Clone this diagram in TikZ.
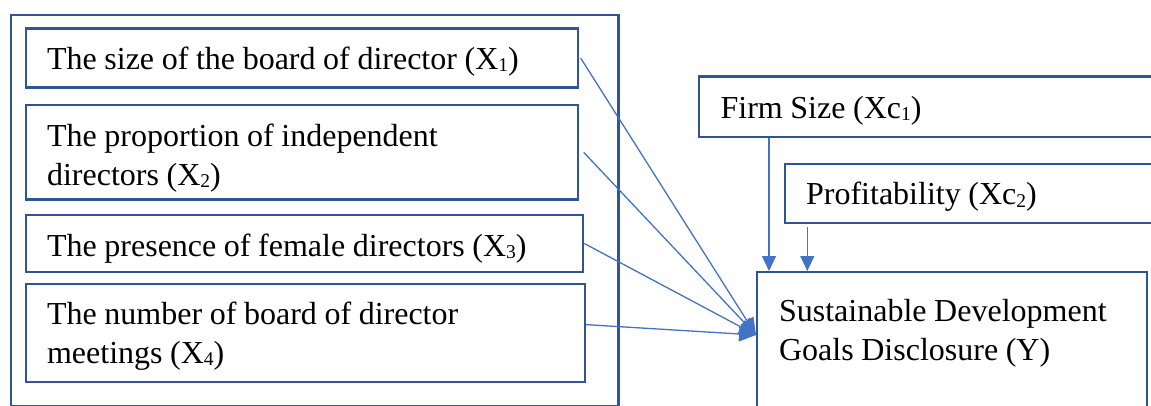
\documentclass[tikz,border=0pt]{standalone}
\usepackage{fontspec}
\setmainfont{Liberation Serif}
\usetikzlibrary{arrows.meta}

\definecolor{boxblue}{HTML}{2F5597}
\definecolor{arrblue}{HTML}{4472C4}

% tight, rigid word spacing inside the boxes
\newcommand{\tightspaces}{\spaceskip=7.6pt\relax\xspaceskip=7.6pt\relax}
% small lowered index, as in X_1
\newcommand{\subidx}[1]{\raisebox{-2.5pt}{\fontsize{19.5}{19.5}\selectfont #1}}

\tikzset{
  frame/.style={draw=boxblue, line width=2.2pt, rectangle, inner sep=0pt,
    anchor=north west},
  varbox/.style={draw=boxblue, line width=2.2pt, rectangle, anchor=north west,
    inner ysep=0pt, inner xsep=21.5pt, align=left,
    font=\fontsize{32}{39}\selectfont,
    execute at begin node=\tightspaces},
  arr/.style={draw=arrblue, line width=1.3pt,
    -{Triangle[length=15pt,width=14pt]}},
  bigarr/.style={arr, -{Triangle[length=17pt,width=15pt]}},
}

\begin{document}
\begin{tikzpicture}[x=1pt, y=-1pt]
  \useasboundingbox (0,0) rectangle (1151,406);

  % group of board characteristics
  \node[frame, minimum width=607.3pt, minimum height=390.5pt] (grp) at (10,14) {};

  % independent variables
  \node[varbox, text width=509.5pt, text height=40.5pt, text depth=18.5pt]
    (b1) at (24.5,27.5) {The size of the board of director (X\subidx{1})};
  \node[varbox, text width=509.5pt, text height=41pt, text depth=53.5pt]
    (b2) at (24.5,104) {The proportion of independent\\directors (X\subidx{2})};
  \node[varbox, text width=514.5pt, text height=41pt, text depth=15.7pt]
    (b3) at (24.5,214) {The presence of female directors (X\subidx{3})};
  \node[varbox, text width=516pt, text height=40.5pt, text depth=57.5pt]
    (b4) at (24.5,282.5) {The number of board of director\\meetings (X\subidx{4})};

  % control variables
  \node[varbox, text width=429pt, text height=41.5pt, text depth=19pt]
    (firm) at (698,75.5) {Firm Size (Xc\subidx{1})};
  \node[varbox, text width=343.5pt, text height=40.8pt, text depth=18.8pt]
    (prof) at (783.5,162.7) {Profitability (Xc\subidx{2})};

  % dependent variable
  \node[varbox, inner xsep=22pt, text width=346pt, text height=49pt, text depth=120pt]
    (y) at (756,271) {Sustainable Development\\Goals Disclosure (Y)};

  % arrows
  \coordinate (tip) at (756,335);
  \draw[bigarr] ([xshift=1.5pt]b1.east) -- (tip);
  \draw[bigarr] ([xshift=4.5pt]b2.east) -- (tip);
  \draw[bigarr] (b3.east) -- (tip);
  \draw[bigarr] ([yshift=8pt]b4.east) -- (tip);

  \draw[arr] ([xshift=71pt]firm.south west) -- ([xshift=13pt]y.north west);
  \draw[arr] ([xshift=23.8pt,yshift=-2.5pt]prof.south west) -- ([xshift=51.3pt]y.north west);
\end{tikzpicture}
\end{document}
